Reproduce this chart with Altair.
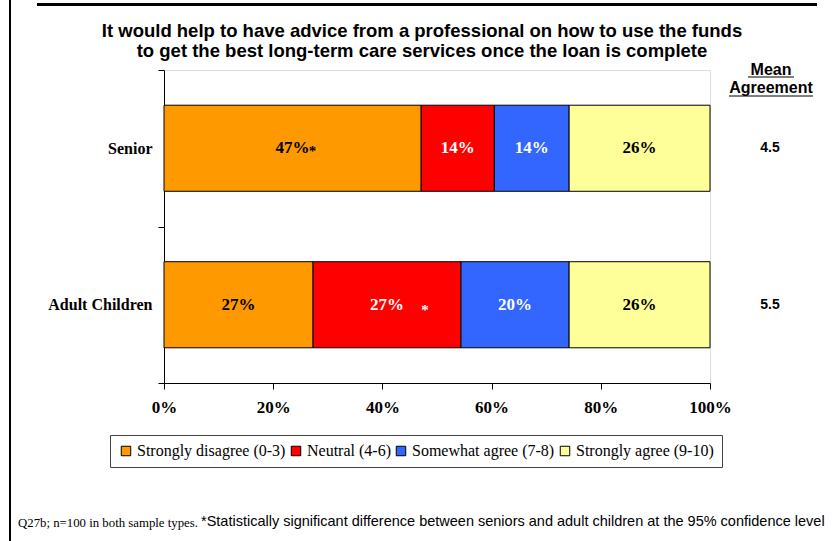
import altair as alt
import pandas as pd

groups = ["Senior", "Adult Children"]
categories = ["Strongly disagree (0-3)", "Neutral (4-6)", "Somewhat agree (7-8)", "Strongly agree (9-10)"]
senior_values = [47.1, 13.4, 13.7, 25.8]
adult_values = [27.3, 27.1, 19.8, 25.8]
senior_labels = ["47%", "14%", "14%", "26%"]
adult_labels = ["27%", "27%", "20%", "26%"]
senior_stars = ["near", "", "", ""]
adult_stars = ["", "far", "", ""]
mean_agreement = [4.5, 5.5]
palette = ["#FF9900", "#FF0000", "#3366FF", "#FFFF99"]
label_colors = ["black", "white", "white", "black"]

title_lines = [
    "It would help to have advice from a professional on how to use the funds",
    "to get the best long-term care services once the loan is complete",
]
header_text = "Mean\nAgreement"
footer_a = "Q27b; n=100 in both sample types."
footer_b = "*Statistically significant difference between seniors and adult children at the 95% confidence level"

rows = []
for g, vals, labs, stars in [("Senior", senior_values, senior_labels, senior_stars),
                             ("Adult Children", adult_values, adult_labels, adult_stars)]:
    for i, (c, v, l, s) in enumerate(zip(categories, vals, labs, stars)):
        rows.append({"group": g, "cat": c, "order": i, "value": v, "label": l, "star": s})
df = pd.DataFrame(rows)
mean_df = pd.DataFrame({"group": groups, "mean": mean_agreement})

SERIF = "Liberation Serif"
SANS = "Liberation Sans"

W, H = 546, 313
L, T = 164, 70

y_enc = alt.Y("group:N", sort=groups,
              scale=alt.Scale(domain=groups, paddingInner=0, paddingOuter=0),
              axis=alt.Axis(title=None, tickBand="extent", labelFont=SERIF, labelFontWeight="bold",
                            labelFontSize=16, labelColor="black", labelPadding=6, tickSize=6,
                            tickColor="black", domainColor="black"))

base = alt.Chart(df).transform_stack(
    stack="value", groupby=["group"], as_=["x0", "x1"], sort=[alt.SortField("order")]
).transform_calculate(mid="(datum.x0 + datum.x1) / 2")

bars = base.mark_bar(height=alt.RelativeBandSize(0.55), stroke="black", strokeWidth=1).encode(
    x=alt.X("x0:Q", scale=alt.Scale(domain=[0, 100], nice=False),
            axis=alt.Axis(values=[0, 20, 40, 60, 80, 100], labelExpr="datum.value + '%'", title=None,
                          grid=False, tickSize=6, labelPadding=10, labelFont=SERIF, labelFontWeight="bold",
                          labelFontSize=17, labelColor="black", tickColor="black", domainColor="black",
                          labelFlush=False)),
    x2="x1:Q",
    y=y_enc,
    color=alt.Color("cat:N", sort=categories,
                    scale=alt.Scale(domain=categories, range=palette),
                    legend=alt.Legend(title=None, orient="none", legendX=-54, legendY=365,
                                      direction="horizontal", columns=4, labelFont=SERIF,
                                      labelFontSize=16, labelColor="black", symbolType="square",
                                      symbolSize=90, symbolStrokeColor="black", symbolStrokeWidth=1,
                                      strokeColor="#444", fillColor="white", padding=8,
                                      columnPadding=2, labelOffset=3, labelLimit=0)),
)

labels = base.mark_text(font=SERIF, fontWeight="bold", fontSize=17).encode(
    x="mid:Q",
    y=alt.Y("group:N", sort=groups),
    text="label:N",
    color=alt.Color("cat:N", scale=alt.Scale(domain=categories, range=label_colors), legend=None),
)

stars_near = base.transform_filter("datum.star == 'near'").mark_text(
    font=SERIF, fontWeight="bold", fontSize=15, dx=20, dy=3, color="black", text="*"
).encode(x="mid:Q", y=alt.Y("group:N", sort=groups))

stars_far = base.transform_filter("datum.star == 'far'").mark_text(
    font=SERIF, fontWeight="bold", fontSize=15, dx=38, dy=5, color="white", text="*"
).encode(x="mid:Q", y=alt.Y("group:N", sort=groups))

means = alt.Chart(mean_df).mark_text(font=SANS, fontWeight="bold", fontSize=14, color="black").encode(
    x=alt.value(606), y=alt.Y("group:N", sort=groups), text=alt.Text("mean:Q", format=".1f"))

header = alt.Chart(pd.DataFrame({"t": [header_text]})).mark_text(
    font=SANS, fontWeight="bold", fontSize=16, color="black", lineBreak="\n", lineHeight=18,
    baseline="middle"
).encode(x=alt.value(607), y=alt.value(0), text="t:N")

underline1 = alt.Chart(pd.DataFrame({"a": [0]})).mark_rule(color="black", strokeWidth=1).encode(
    x=alt.value(584), x2=alt.value(630), y=alt.value(7))
underline2 = alt.Chart(pd.DataFrame({"a": [0]})).mark_rule(color="black", strokeWidth=1).encode(
    x=alt.value(565), x2=alt.value(649), y=alt.value(26))

title = alt.Chart(pd.DataFrame({"t": ["\n".join(title_lines)]})).mark_text(
    font=SANS, fontWeight="bold", fontSize=18.5, color="black", lineBreak="\n", lineHeight=20,
    baseline="middle", align="center"
).encode(x=alt.value(422 - L), y=alt.value(31 - T), text="t:N")

border_left = alt.Chart(pd.DataFrame({"a": [0]})).mark_rule(color="black", strokeWidth=2).encode(
    x=alt.value(10 - L), y=alt.value(-T), y2=alt.value(541 - T))
border_top = alt.Chart(pd.DataFrame({"a": [0]})).mark_rule(color="black", strokeWidth=3).encode(
    x=alt.value(37 - L), x2=alt.value(817 - L), y=alt.value(4.5 - T))

foot1 = alt.Chart(pd.DataFrame({"t": [footer_a]})).mark_text(
    font=SERIF, fontSize=12.8, color="black", align="left", baseline="middle"
).encode(x=alt.value(18 - L), y=alt.value(523 - T), text="t:N")
foot2 = alt.Chart(pd.DataFrame({"t": [footer_b]})).mark_text(
    font=SANS, fontSize=14.5, color="black", align="left", baseline="middle"
).encode(x=alt.value(201 - L), y=alt.value(522 - T), text="t:N")

chart = alt.layer(
    bars, labels, stars_near, stars_far, means, header, underline1, underline2, title,
    border_left, border_top, foot1, foot2
).resolve_scale(color="independent").properties(
    width=W, height=H,
    autosize=alt.AutoSizeParams(type="none"),
    padding={"left": L, "top": T, "right": 840 - L - W, "bottom": 541 - T - H},
).configure_view(stroke=None).configure(background="white")

chart.save("out.html", embed_options={"renderer": "svg", "actions": False})
